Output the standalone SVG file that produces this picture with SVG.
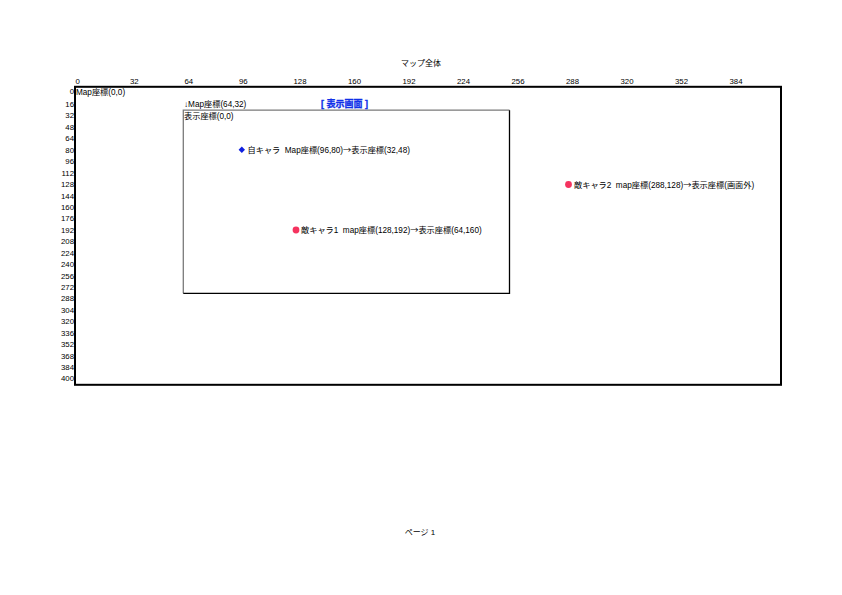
<svg xmlns="http://www.w3.org/2000/svg" width="842" height="595" viewBox="0 0 842 595">
<style>
text{font-family:"Liberation Sans","Noto Sans CJK JP",sans-serif;font-size:8px;fill:#000;white-space:pre}
.ax{font-size:7.8px}
.yl{text-anchor:end;font-size:7.8px}
.lbl{font-size:8.2px}
.ttl{font-size:8px;text-anchor:middle}
.blue{fill:#1030e8;font-weight:700;font-size:9px;stroke:#1030e8;stroke-width:0.35}
.arr{font-family:"Noto Sans CJK JP",sans-serif}
</style>
<rect width="842" height="595" fill="#fff"/>
<g id="title"><text class="ttl" x="421" y="66">マップ全体</text></g>
<g id="x-axis">
<text class="ax" x="75.5" y="83.5">0</text>
<text class="ax" x="130" y="83.5">32</text>
<text class="ax" x="184.5" y="83.5">64</text>
<text class="ax" x="239" y="83.5">96</text>
<text class="ax" x="293.5" y="83.5">128</text>
<text class="ax" x="348" y="83.5">160</text>
<text class="ax" x="402.5" y="83.5">192</text>
<text class="ax" x="457" y="83.5">224</text>
<text class="ax" x="511.5" y="83.5">256</text>
<text class="ax" x="566" y="83.5">288</text>
<text class="ax" x="620.5" y="83.5">320</text>
<text class="ax" x="675" y="83.5">352</text>
<text class="ax" x="729.5" y="83.5">384</text>
</g>
<g id="y-axis">
<text class="yl" x="74" y="94.3">0</text>
<text class="yl" x="74" y="107">16</text>
<text class="yl" x="74" y="118.4">32</text>
<text class="yl" x="74" y="129.9">48</text>
<text class="yl" x="74" y="141.3">64</text>
<text class="yl" x="74" y="152.7">80</text>
<text class="yl" x="74" y="164.2">96</text>
<text class="yl" x="74" y="175.6">112</text>
<text class="yl" x="74" y="187">128</text>
<text class="yl" x="74" y="198.5">144</text>
<text class="yl" x="74" y="209.9">160</text>
<text class="yl" x="74" y="221.3">176</text>
<text class="yl" x="74" y="232.7">192</text>
<text class="yl" x="74" y="244.2">208</text>
<text class="yl" x="74" y="255.6">224</text>
<text class="yl" x="74" y="267">240</text>
<text class="yl" x="74" y="278.5">256</text>
<text class="yl" x="74" y="289.9">272</text>
<text class="yl" x="74" y="301.3">288</text>
<text class="yl" x="74" y="312.8">304</text>
<text class="yl" x="74" y="324.2">320</text>
<text class="yl" x="74" y="335.6">336</text>
<text class="yl" x="74" y="347.1">352</text>
<text class="yl" x="74" y="358.5">368</text>
<text class="yl" x="74" y="369.9">384</text>
<text class="yl" x="74" y="381.3">400</text>
</g>
<g id="map-frame">
<rect x="75" y="86.8" width="706" height="298" fill="none" stroke="#000" stroke-width="2"/>
<text class="lbl" x="76" y="94.5">Map座標(0,0)</text>
</g>
<g id="display-frame">
<path d="M183.3 293.3 V110.2 H509.5" fill="none" stroke="#7a7a7a" stroke-width="1.3"/>
<path d="M509.5 110.2 V293.3 H183.3" fill="none" stroke="#000" stroke-width="1.3"/>
<text class="lbl" x="184" y="107">↓Map座標(64,32)</text>
<text class="blue" x="321" y="107">[ 表示画面 ]</text>
<text class="lbl" x="184" y="119.3">表示座標(0,0)</text>
</g>
<g id="self-chara">
<path d="M241.8 146.6 L245 149.8 L241.8 153 L238.6 149.8 Z" fill="#1020e0"/>
<text class="lbl" x="247.5" y="152.8" xml:space="preserve">自キャラ  Map座標(96,80)<tspan class="arr">→</tspan>表示座標(32,48)</text>
</g>
<g id="enemy1">
<circle cx="296" cy="230" r="3.4" fill="#f5335f"/>
<text class="lbl" x="301" y="233" xml:space="preserve">敵キャラ1  map座標(128,192)<tspan class="arr">→</tspan>表示座標(64,160)</text>
</g>
<g id="enemy2">
<circle cx="568.5" cy="184.5" r="3.4" fill="#f5335f"/>
<text class="lbl" x="574" y="187.5" xml:space="preserve">敵キャラ2  map座標(288,128)<tspan class="arr">→</tspan>表示座標(画面外)</text>
</g>
<g id="connectors"/>
<g id="footer"><text class="ttl" x="420" y="535">ページ 1</text></g>
</svg>
